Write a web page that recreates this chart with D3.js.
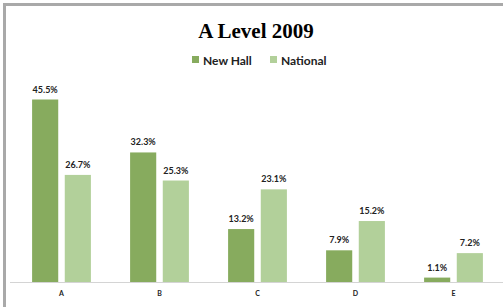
<!DOCTYPE html>
<html>
<head>
<meta charset="utf-8">
<script src="https://cdn.jsdelivr.net/npm/d3@7"></script>
<style>
  body { margin: 0; background: #fff; }
  svg { display: block; }
</style>
</head>
<body>
<svg id="chart"></svg>
<script>
const grades = ['A', 'B', 'C', 'D', 'E'];
const series = ['New Hall', 'National'];
const newHall = [45.5, 32.3, 13.2, 7.9, 1.1];
const national = [26.7, 25.3, 23.1, 15.2, 7.2];
const colors = ['#87ab5e', '#b2d09a'];

const W = 503, H = 307;
const svg = d3.select('#chart').attr('width', W).attr('height', H);

// frame (top + left edge)
svg.append('rect').attr('x', 3).attr('y', 3).attr('width', W).attr('height', 3).attr('fill', '#a9a9a9');
svg.append('rect').attr('x', 3).attr('y', 3).attr('width', 3).attr('height', H).attr('fill', '#a9a9a9');

svg.append('text')
  .attr('x', 256).attr('y', 38)
  .attr('text-anchor', 'middle')
  .attr('font-family', 'Liberation Serif, DejaVu Serif, serif')
  .attr('font-weight', 'bold')
  .attr('font-size', 21)
  .text('A Level 2009');

// legend
const legendX = [192, 270];
series.forEach((s, i) => {
  svg.append('rect').attr('x', legendX[i]).attr('y', 56).attr('width', 7).attr('height', 7).attr('fill', colors[i]);
  svg.append('text')
    .attr('x', legendX[i] + 11).attr('y', 64.5)
    .attr('font-family', 'Lato, sans-serif')
    .attr('font-weight', 'bold')
    .attr('font-size', 12)
    .attr('fill', '#222')
    .text(s);
});

const baseY = 282;
const x = d3.scaleBand().domain(grades).range([12.5, 502.5]).paddingInner(0.4).paddingOuter(0.2);
const xs = d3.scaleBand().domain(series).range([0, x.bandwidth()]).paddingInner(0.2);
const y = d3.scaleLinear().domain([0, 45.5]).range([baseY, 99.5]);

const rows = grades.map((g, i) => ({ g, vals: [newHall[i], national[i]] }));

const grp = svg.append('g').selectAll('g').data(rows).join('g')
  .attr('transform', d => `translate(${x(d.g)},0)`);

grp.selectAll('rect').data(d => d.vals.map((v, i) => ({ v, s: series[i], i }))).join('rect')
  .attr('x', d => xs(d.s))
  .attr('width', xs.bandwidth())
  .attr('y', d => y(d.v))
  .attr('height', d => baseY - y(d.v))
  .attr('fill', d => colors[d.i]);

grp.selectAll('text.val').data(d => d.vals.map((v, i) => ({ v, s: series[i], i }))).join('text')
  .attr('class', 'val')
  .attr('x', d => xs(d.s) + xs.bandwidth() / 2)
  .attr('y', d => y(d.v) - 7)
  .attr('text-anchor', 'middle')
  .attr('font-family', 'Lato, sans-serif')
  .attr('font-weight', 'bold')
  .attr('font-size', 9)
  .attr('fill', '#222')
  .text(d => d.v.toFixed(1) + '%');

const axis = svg.append('g')
  .attr('transform', `translate(0,${baseY})`)
  .call(d3.axisBottom(x).tickSize(0).tickPadding(9));
axis.select('.domain').attr('stroke', '#d4d4d4').attr('d', 'M10,0.5H503');
axis.selectAll('text')
  .attr('font-family', 'Lato, sans-serif')
  .attr('font-weight', 'bold')
  .attr('font-size', 7)
  .attr('fill', '#222');
</script>
</body>
</html>
